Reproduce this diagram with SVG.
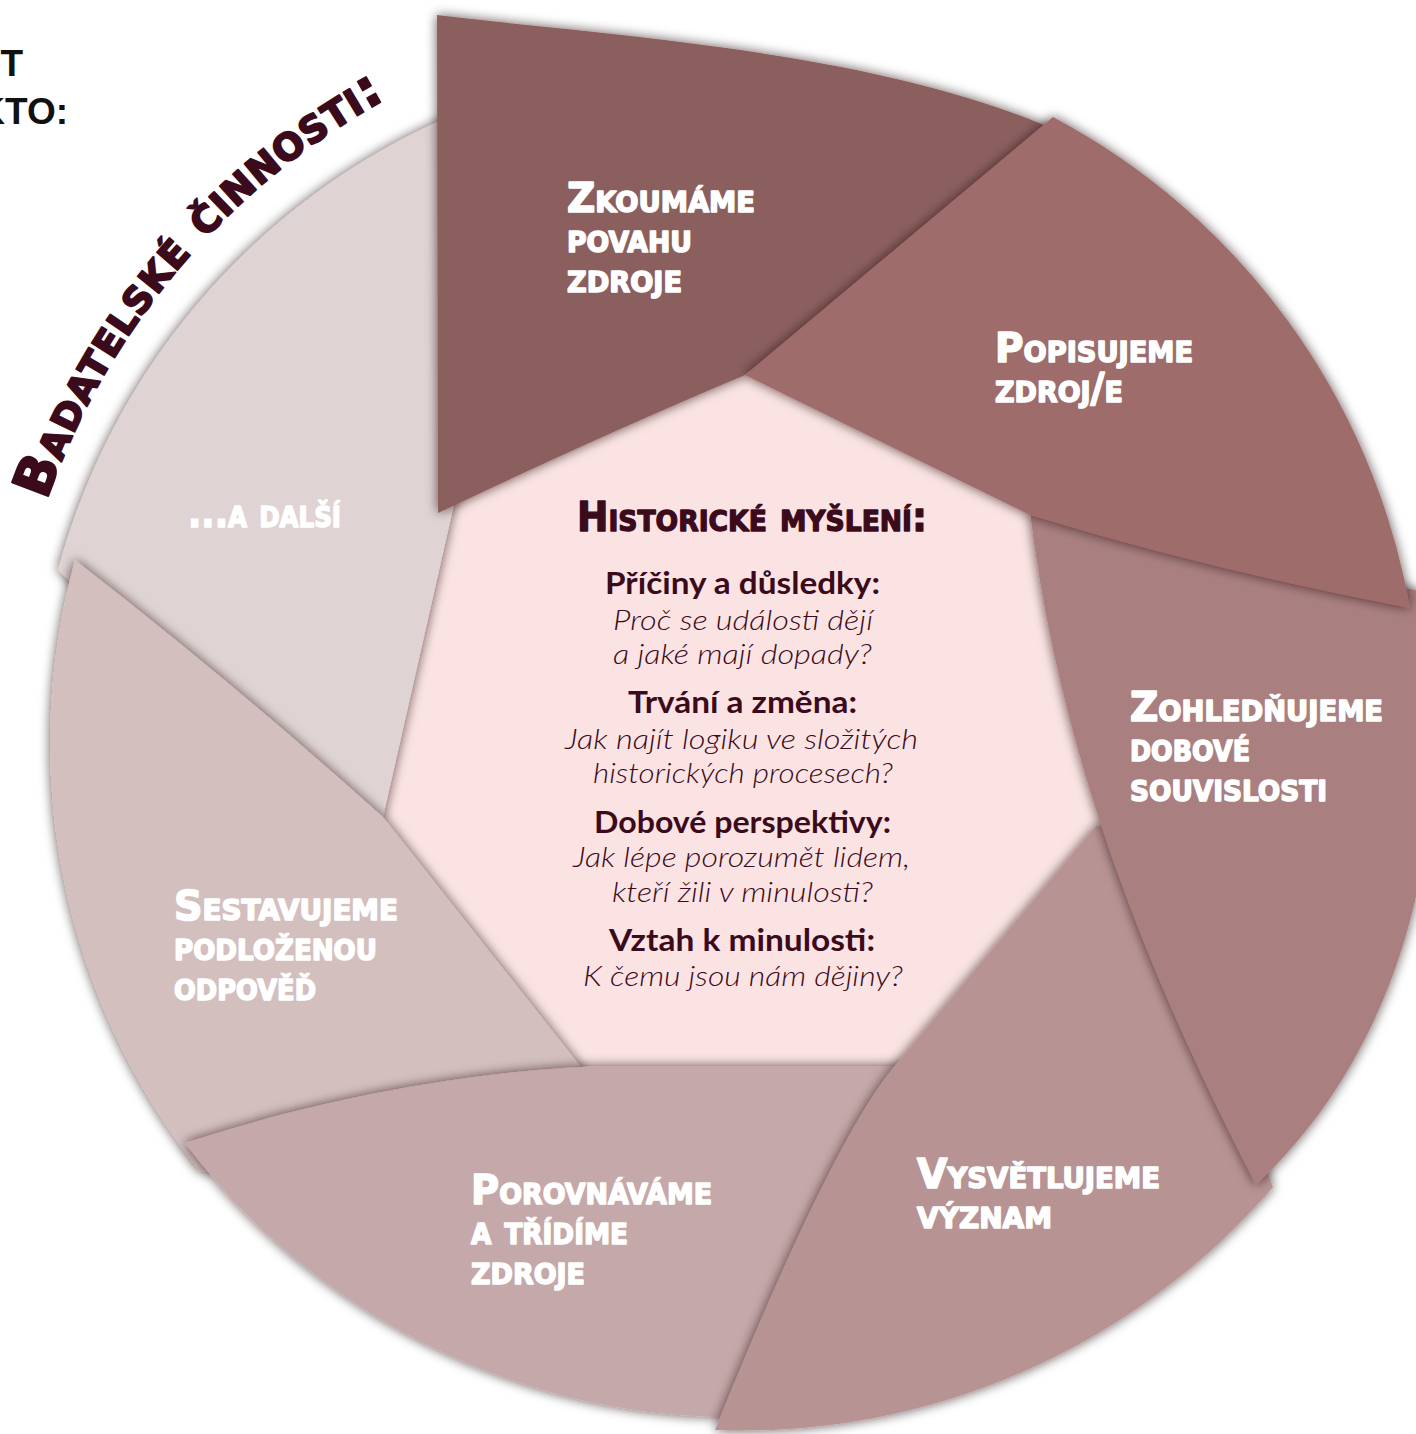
<svg xmlns="http://www.w3.org/2000/svg" width="1416" height="1434" viewBox="0 0 1416 1434">
<defs>
<filter id="sh" filterUnits="userSpaceOnUse" x="-50" y="-50" width="1516" height="1534">
<feDropShadow dx="0" dy="0" stdDeviation="6" flood-color="#1e0a0a" flood-opacity="0.68"/>
</filter>
<path id="arcT" d="M 40.5,519.6 A 730 730 0 0 1 461.5,63.2"/>
</defs>
<style>
.seg{filter:url(#sh)}
.lbl{font-family:"DejaVu Sans",sans-serif;font-weight:bold;font-size:40px;font-variant:small-caps;fill:#fff;stroke:#fff;stroke-width:1.6px;stroke-linejoin:round}
.hd{font-family:"DejaVu Sans",sans-serif;font-weight:bold;font-size:41px;font-variant:small-caps;fill:#3b0b1c;stroke:#3b0b1c;stroke-width:1.4px;stroke-linejoin:round}
.b{font-family:Lato,"Open Sans",sans-serif;font-weight:700;font-size:30px;fill:#3b0b1c}
.i{font-family:Lato,"Open Sans",sans-serif;font-weight:300;font-style:italic;font-size:28px;fill:#3b0b1c}
.bad{font-family:"DejaVu Sans",sans-serif;font-weight:bold;font-size:53px;letter-spacing:0.9px;font-variant:small-caps;fill:#3b0b1c;stroke:#3b0b1c;stroke-width:2px;stroke-linejoin:round}
.top{font-family:"Liberation Sans",sans-serif;font-weight:bold;font-size:37px;fill:#111}
</style>
<rect width="1416" height="1434" fill="#fff"/>
<g id="title">
<text class="top" x="23" y="76" text-anchor="end">ST</text>
<text class="top" x="68" y="124" text-anchor="end">KTO:</text>
<text class="bad"><textPath href="#arcT" startOffset="20">Badatelské činnosti:</textPath></text>
</g>
<g id="center-bg">
<polygon points="440,480 750,360 1040,505 1105,830 893,1080 577,1080 370,820" fill="#fbe3e3"/>
</g>
<g id="seg-dalsi">
<path class="seg" fill="#e0d3d3" d="M 470,108 A 690 690 0 0 0 58,570 L 300,800 L 383,817 L 455,500 L 470,480 Z"/>
<text class="lbl" x="188" y="527" textLength="153" lengthAdjust="spacingAndGlyphs">...a další</text>
</g>
<g id="seg-sestavujeme">
<path class="seg" fill="#d4bfbf" d="M 75,560 Q 230,680 383,817 L 577,1062 L 600,1090 L 300,1160 L 200,1172 A 688 688 0 0 1 75,560 Z"/>
<text class="lbl" x="174" y="920" textLength="224" lengthAdjust="spacingAndGlyphs">Sestavujeme</text>
<text class="lbl" x="174" y="960" textLength="203" lengthAdjust="spacingAndGlyphs">podloženou</text>
<text class="lbl" x="174" y="1000" textLength="142" lengthAdjust="spacingAndGlyphs">odpověď</text>
</g>
<g id="seg-porovnavame">
<path class="seg" fill="#c5a8a9" d="M 185,1143 C 300,1105 450,1072 600,1066 L 950,1066 L 790,1415 A 688 688 0 0 1 185,1143 Z"/>
<text class="lbl" x="471" y="1204" textLength="241" lengthAdjust="spacingAndGlyphs">Porovnáváme</text>
<text class="lbl" x="471" y="1244" textLength="157" lengthAdjust="spacingAndGlyphs">a třídíme</text>
<text class="lbl" x="471" y="1284" textLength="114" lengthAdjust="spacingAndGlyphs">zdroje</text>
</g>
<g id="seg-vysvetlujeme">
<path class="seg" fill="#b89394" d="M 1096,826 L 893,1068 Q 830,1145 715,1430 A 700 700 0 0 0 1273,1187 L 1130,830 Z"/>
<text class="lbl" x="917" y="1188" textLength="243" lengthAdjust="spacingAndGlyphs">Vysvětlujeme</text>
<text class="lbl" x="917" y="1228" textLength="135" lengthAdjust="spacingAndGlyphs">význam</text>
</g>
<g id="seg-zohlednujeme">
<path class="seg" fill="#aa7f7f" d="M 1030,512 L 1425,592 C 1455,800 1420,1030 1256,1185 C 1150,980 1060,760 1030,512 Z"/>
<text class="lbl" x="1130" y="721" textLength="253" lengthAdjust="spacingAndGlyphs">Zohledňujeme</text>
<text class="lbl" x="1130" y="761" textLength="120" lengthAdjust="spacingAndGlyphs">dobové</text>
<text class="lbl" x="1130" y="801" textLength="197" lengthAdjust="spacingAndGlyphs">souvislosti</text>
</g>
<g id="seg-zkoumame">
<path class="seg" fill="#8c5e5e" d="M 437,15 C 600,35 880,50 1060,132 L 745,375 Q 600,436 438,513 Z"/>
<text class="lbl" x="567" y="212" textLength="188" lengthAdjust="spacingAndGlyphs">Zkoumáme</text>
<text class="lbl" x="567" y="252" textLength="125" lengthAdjust="spacingAndGlyphs">povahu</text>
<text class="lbl" x="567" y="292" textLength="115" lengthAdjust="spacingAndGlyphs">zdroje</text>
</g>
<g id="seg-popisujeme">
<path class="seg" fill="#9e6c6b" d="M 1053,117 A 692 692 0 0 1 1410,608 Q 1210,570 1030,515 L 745,375 Z"/>
<text class="lbl" x="995" y="362" textLength="198" lengthAdjust="spacingAndGlyphs">Popisujeme</text>
<text class="lbl" x="995" y="402" textLength="128" lengthAdjust="spacingAndGlyphs">zdroj/e</text>
</g>
<g id="historicke-mysleni">
<text class="hd" x="577" y="531" textLength="350" lengthAdjust="spacingAndGlyphs">Historické myšlení:</text>
<text class="b" x="605" y="594" textLength="275" lengthAdjust="spacingAndGlyphs">Příčiny a důsledky:</text>
<text class="i" x="613" y="630" textLength="260" lengthAdjust="spacingAndGlyphs">Proč se události dějí</text>
<text class="i" x="613" y="664" textLength="259" lengthAdjust="spacingAndGlyphs">a jaké mají dopady?</text>
<text class="b" x="628" y="713" textLength="229" lengthAdjust="spacingAndGlyphs">Trvání a změna:</text>
<text class="i" x="565" y="749" textLength="353" lengthAdjust="spacingAndGlyphs">Jak najít logiku ve složitých</text>
<text class="i" x="593" y="783" textLength="300" lengthAdjust="spacingAndGlyphs">historických procesech?</text>
<text class="b" x="594" y="833" textLength="297" lengthAdjust="spacingAndGlyphs">Dobové perspektivy:</text>
<text class="i" x="573" y="867" textLength="337" lengthAdjust="spacingAndGlyphs">Jak lépe porozumět lidem,</text>
<text class="i" x="612" y="902" textLength="261" lengthAdjust="spacingAndGlyphs">kteří žili v minulosti?</text>
<text class="b" x="609" y="951" textLength="266" lengthAdjust="spacingAndGlyphs">Vztah k minulosti:</text>
<text class="i" x="583" y="986" textLength="320" lengthAdjust="spacingAndGlyphs">K čemu jsou nám dějiny?</text>
</g>
<g id="connectors"/>
</svg>
